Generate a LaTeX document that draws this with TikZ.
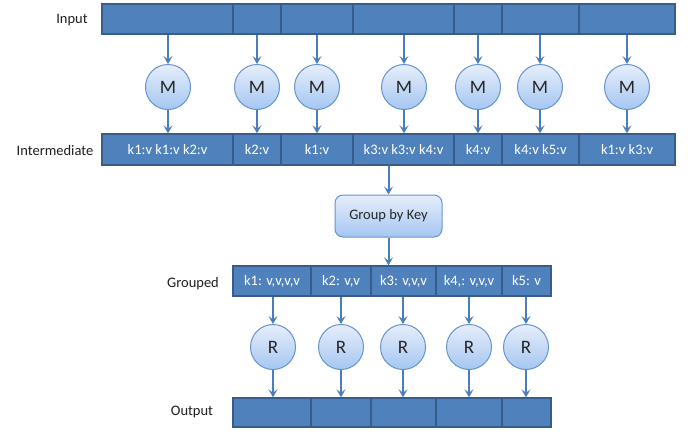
\documentclass[tikz,border=0pt]{standalone}
\usepackage{fontspec}
\setmainfont{Carlito}
\usetikzlibrary{arrows.meta,shadings}
\definecolor{barblue}{RGB}{79,129,189}
\definecolor{bardark}{RGB}{56,93,138}
\definecolor{arrowblue}{RGB}{74,126,187}
\definecolor{circtop}{RGB}{230,238,251}
\definecolor{circbot}{RGB}{165,198,242}
\definecolor{circedge}{RGB}{100,148,208}
\definecolor{labeltext}{RGB}{30,30,30}
\tikzset{
  cell/.style={draw=bardark, fill=barblue, line width=1.4pt, inner sep=0pt,
    text=white, font=\fontsize{14.5}{16}\selectfont, anchor=center},
  circ/.style={circle, draw=circedge, line width=1pt, top color=circtop, bottom color=circbot,
    minimum size=45pt, inner sep=0pt, font=\fontsize{19}{21}\selectfont, text=black!85},
  gbox/.style={rectangle, rounded corners=8pt, draw=circedge, line width=1pt, top color=circtop,
    bottom color=circbot, minimum width=107pt, minimum height=42pt, inner sep=0pt,
    font=\fontsize{14.5}{16}\selectfont, text=black!85},
  rowlabel/.style={font=\fontsize{14.5}{16}\selectfont, text=labeltext, inner sep=0pt},
  flow/.style={draw=arrowblue, line width=2pt, -{Stealth[length=8pt,width=9pt,inset=3.5pt]}}
}
\newcommand{\mycell}[6]{% name, x1, x2, y1, y2, text
  \node[cell, minimum width={(#3-#2)*1pt}, minimum height={(#5-#4)*1pt}] (#1) at ({(#2+#3)/2}, {(#4+#5)/2}) {#6};}
\begin{document}
\begin{tikzpicture}[x=1pt, y=-1pt]
\useasboundingbox (0,0) rectangle (690,431);
% labels
\node[rowlabel] (linput) at (72,20) {Input};
\node[rowlabel] (linter) at (55,151) {Intermediate};
\node[rowlabel] (lgroup) at (193,284) {Grouped};
\node[rowlabel] (lout) at (192,412) {Output};
% input bar
\mycell{in1}{102}{233}{4}{34}{}
\mycell{in2}{233}{281}{4}{34}{}
\mycell{in3}{281}{353}{4}{34}{}
\mycell{in4}{353}{454}{4}{34}{}
\mycell{in5}{454}{502}{4}{34}{}
\mycell{in6}{502}{579}{4}{34}{}
\mycell{in7}{579}{675}{4}{34}{}
% intermediate bar
\mycell{im1}{102}{233}{134}{165}{k1:v k1:v k2:v}
\mycell{im2}{233}{281}{134}{165}{k2:v}
\mycell{im3}{281}{353}{134}{165}{k1:v}
\mycell{im4}{353}{454}{134}{165}{k3:v k3:v k4:v}
\mycell{im5}{454}{502}{134}{165}{k4:v}
\mycell{im6}{502}{579}{134}{165}{k4:v k5:v}
\mycell{im7}{579}{675}{134}{165}{k1:v k3:v}
% map circles
\foreach \i/\x in {1/168,2/257,3/317,4/404,5/478,6/540,7/627}{
  \node[circ] (m\i) at (\x,87) {M};
  \draw[flow] (in\i.south -| m\i.north) -- (m\i.north);
  \draw[flow] (m\i.south) -- (im\i.north -| m\i.south);
}
% group by key
\node[gbox] (gbk) at (388.5,216) {Group by Key};
\draw[flow] (gbk.north |- im4.south) -- (gbk.north);
% grouped bar
\mycell{g1}{233}{311}{266}{296}{k1: v,v,v,v}
\mycell{g2}{311}{371}{266}{296}{k2: v,v}
\mycell{g3}{371}{436}{266}{296}{k3: v,v,v}
\mycell{g4}{436}{502}{266}{296}{k4,: v,v,v}
\mycell{g5}{502}{551}{266}{296}{k5: v}
\draw[flow] (gbk.south) -- (gbk.south |- g3.north);
% output bar
\mycell{o1}{233}{311}{398}{427}{}
\mycell{o2}{311}{371}{398}{427}{}
\mycell{o3}{371}{436}{398}{427}{}
\mycell{o4}{436}{502}{398}{427}{}
\mycell{o5}{502}{551}{398}{427}{}
% reduce circles
\foreach \i/\x in {1/273,2/341,3/403,4/469,5/526}{
  \node[circ] (r\i) at (\x,347) {R};
  \draw[flow] (g\i.south -| r\i.north) -- (r\i.north);
  \draw[flow] (r\i.south) -- (o\i.north -| r\i.south);
}
\end{tikzpicture}
\end{document}
